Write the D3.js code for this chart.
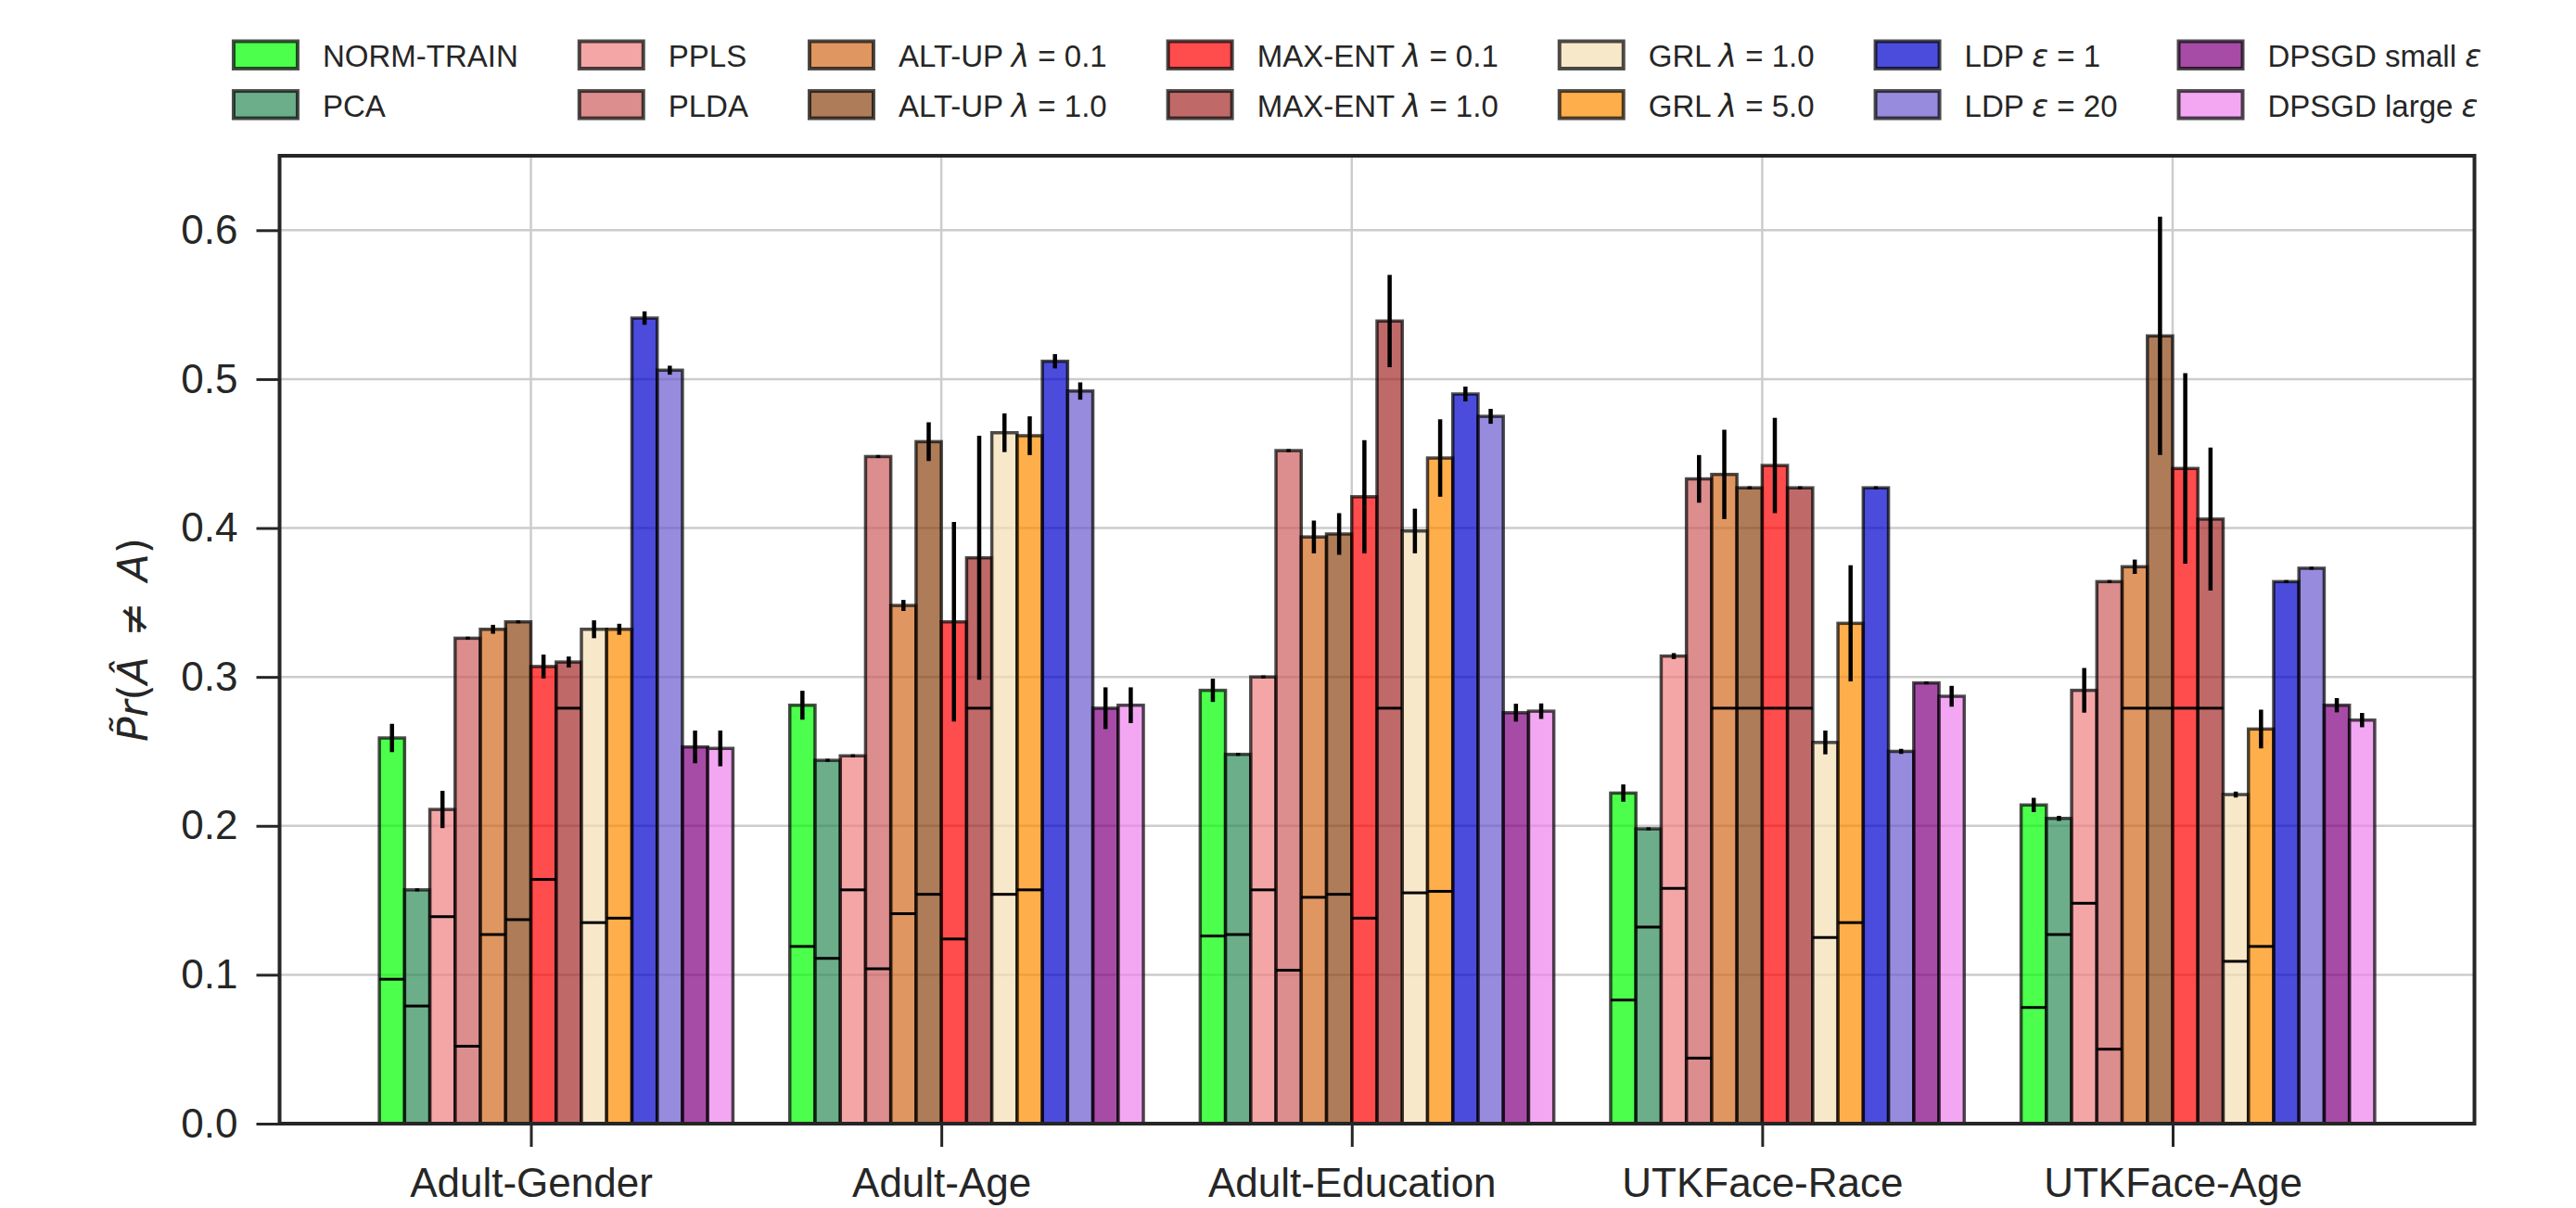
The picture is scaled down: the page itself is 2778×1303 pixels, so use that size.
<!DOCTYPE html>
<html>
<head>
<meta charset="utf-8">
<script src="https://cdn.jsdelivr.net/npm/d3@7"></script>
<style>
  body { margin: 0; background: #fff; }
  text { font-family: "Liberation Sans", Arial, sans-serif; fill: #262626; }
</style>
</head>
<body>
<div id="chart"></div>
<script>
// x categories
var datasets = ["Adult-Gender", "Adult-Age", "Adult-Education", "UTKFace-Race", "UTKFace-Age"];

// series (legend order) and their colours
var methods = ["NORM-TRAIN", "PCA", "PPLS", "PLDA",
    "ALT-UP λ = 0.1", "ALT-UP λ = 1.0", "MAX-ENT λ = 0.1", "MAX-ENT λ = 1.0",
    "GRL λ = 1.0", "GRL λ = 5.0", "LDP ε = 1", "LDP ε = 20",
    "DPSGD small ε", "DPSGD large ε"];
var colors = ["lime", "seagreen", "lightcoral", "indianred",
    "chocolate", "saddlebrown", "red", "brown",
    "wheat", "darkorange", "mediumblue", "slateblue",
    "purple", "violet"];

// bar heights, one value per method
var meanAdultGender = [0.259, 0.157, 0.211, 0.326, 0.332, 0.337, 0.307, 0.310, 0.332, 0.332, 0.541, 0.506, 0.253, 0.252];
var meanAdultAge    = [0.281, 0.244, 0.247, 0.448, 0.348, 0.458, 0.337, 0.380, 0.464, 0.462, 0.512, 0.492, 0.279, 0.281];
var meanAdultEdu    = [0.291, 0.248, 0.300, 0.452, 0.394, 0.396, 0.421, 0.539, 0.398, 0.447, 0.490, 0.475, 0.276, 0.277];
var meanUtkRace     = [0.222, 0.198, 0.314, 0.433, 0.436, 0.427, 0.442, 0.427, 0.256, 0.336, 0.427, 0.250, 0.296, 0.287];
var meanUtkAge      = [0.214, 0.205, 0.291, 0.364, 0.374, 0.529, 0.440, 0.406, 0.221, 0.265, 0.364, 0.373, 0.281, 0.271];

// error bar half lengths
var errAdultGender = [0.0095, 0.001, 0.0125, 0.001, 0.003, 0.001, 0.008, 0.0037, 0.006, 0.0037, 0.0045, 0.003, 0.011, 0.012];
var errAdultAge    = [0.0097, 0.001, 0.001, 0.001, 0.0037, 0.013, 0.067, 0.082, 0.013, 0.013, 0.0048, 0.0058, 0.014, 0.012];
var errAdultEdu    = [0.0078, 0.001, 0.001, 0.001, 0.011, 0.014, 0.038, 0.031, 0.015, 0.026, 0.005, 0.005, 0.006, 0.0052];
var errUtkRace     = [0.0058, 0.001, 0.002, 0.016, 0.030, 0.001, 0.032, 0.001, 0.008, 0.039, 0.001, 0.0017, 0.001, 0.007];
var errUtkAge      = [0.0048, 0.0017, 0.015, 0.001, 0.0048, 0.080, 0.064, 0.048, 0.002, 0.013, 0.001, 0.001, 0.0048, 0.0048];

// black reference line inside each bar (none for LDP / DPSGD)
var refAdultGender = [0.097, 0.079, 0.139, 0.052, 0.127, 0.137, 0.164, 0.279, 0.135, 0.138, null, null, null, null];
var refAdultAge    = [0.119, 0.111, 0.157, 0.104, 0.141, 0.154, 0.124, 0.279, 0.154, 0.157, null, null, null, null];
var refAdultEdu    = [0.126, 0.127, 0.157, 0.103, 0.152, 0.154, 0.138, 0.279, 0.155, 0.156, null, null, null, null];
var refUtkRace     = [0.083, 0.132, 0.158, 0.044, 0.279, 0.279, 0.279, 0.279, 0.125, 0.135, null, null, null, null];
var refUtkAge      = [0.078, 0.127, 0.148, 0.050, 0.279, 0.279, 0.279, 0.279, 0.109, 0.119, null, null, null, null];

var yTicks = [0, 0.1, 0.2, 0.3, 0.4, 0.5, 0.6];

var means = [meanAdultGender, meanAdultAge, meanAdultEdu, meanUtkRace, meanUtkAge];
var errs = [errAdultGender, errAdultAge, errAdultEdu, errUtkRace, errUtkAge];
var refs = [refAdultGender, refAdultAge, refAdultEdu, refUtkRace, refUtkAge];

var W = 2778, H = 1303;
var plot = {left: 301.5, right: 2668.5, top: 168, bottom: 1212};

var svg = d3.select("#chart").append("svg")
    .attr("width", W)
    .attr("height", H)
    .style("background-color", "#fff");

// Scales
var barW = 0.8 / 13;
var lo = -6 * barW, hi = datasets.length - 1 + 8 * barW;
var pad = 0.05 * (hi - lo);
var x = d3.scaleLinear().domain([lo - pad, hi + pad]).range([plot.left, plot.right]);
var y = d3.scaleLinear().domain([0, 0.65]).range([plot.bottom, plot.top]);
var bw = x(barW) - x(0);

// Grid
var grid = svg.append("g");
grid.selectAll("line.h").data(yTicks).enter().append("line")
    .attr("x1", plot.left).attr("x2", plot.right)
    .attr("y1", function(d) { return y(d); }).attr("y2", function(d) { return y(d); })
    .style("stroke", "#cccccc").style("stroke-width", 2.5);
grid.selectAll("line.v").data(d3.range(datasets.length)).enter().append("line")
    .attr("x1", function(d) { return x(d); }).attr("x2", function(d) { return x(d); })
    .attr("y1", plot.top).attr("y2", plot.bottom)
    .style("stroke", "#cccccc").style("stroke-width", 2.5);

// Bars, error bars and reference lines, one series at a time
methods.forEach(function(m, i) {
    var rows = datasets.map(function(ds, k) {
        return {k: k, v: means[k][i], e: errs[k][i], r: refs[k][i]};
    });
    var g = svg.append("g");
    g.selectAll("rect").data(rows).enter().append("rect")
        .attr("x", function(d) { return x(d.k + (i - 6) * barW); })
        .attr("y", function(d) { return y(d.v); })
        .attr("width", bw)
        .attr("height", function(d) { return y(0) - y(d.v); })
        .style("fill", colors[i]).style("fill-opacity", 0.7)
        .style("stroke", "#000").style("stroke-opacity", 0.7).style("stroke-width", 3.5);
    g.selectAll("line.err").data(rows).enter().append("line")
        .attr("x1", function(d) { return x(d.k + (i - 5.5) * barW); })
        .attr("x2", function(d) { return x(d.k + (i - 5.5) * barW); })
        .attr("y1", function(d) { return y(d.v - d.e); })
        .attr("y2", function(d) { return y(d.v + d.e); })
        .style("stroke", "#000").style("stroke-width", 4.5);
    g.selectAll("line.ref").data(rows.filter(function(d) { return d.r !== null; })).enter().append("line")
        .attr("x1", function(d) { return x(d.k + (i - 6) * barW); })
        .attr("x2", function(d) { return x(d.k + (i - 5) * barW); })
        .attr("y1", function(d) { return y(d.r); })
        .attr("y2", function(d) { return y(d.r); })
        .style("stroke", "#000").style("stroke-width", 3);
});

// Axes
var yaxis = d3.axisLeft(y).tickValues(yTicks).tickFormat(d3.format(".1f")).tickSize(25).tickPadding(20);
var xaxis = d3.axisBottom(x).tickValues(d3.range(datasets.length))
    .tickFormat(function(d) { return datasets[d]; }).tickSize(25).tickPadding(23);

var ya = svg.append("g").attr("transform", "translate(" + plot.left + ",0)").call(yaxis);
var xa = svg.append("g").attr("transform", "translate(0," + plot.bottom + ")").call(xaxis);
[ya, xa].forEach(function(a) {
    a.select(".domain").remove();
    a.selectAll("line").style("stroke", "#262626").style("stroke-width", 3);
    a.selectAll("text").style("font-size", "44px").style("fill", "#262626")
        .style("font-family", "'Liberation Sans', Arial, sans-serif");
});

// Frame
svg.append("rect")
    .attr("x", plot.left).attr("y", plot.top)
    .attr("width", plot.right - plot.left).attr("height", plot.bottom - plot.top)
    .style("fill", "none").style("stroke", "#262626").style("stroke-width", 4);

// Y label
var ylab = svg.append("text")
    .attr("transform", "translate(159," + ((plot.top + plot.bottom) / 2) + ") rotate(-90)")
    .attr("text-anchor", "middle")
    .style("font-family", "'DejaVu Sans', sans-serif")
    .style("font-size", "44px");
ylab.append("tspan").style("font-style", "italic").text("P\u0303r");
ylab.append("tspan").text("(");
ylab.append("tspan").style("font-style", "italic").text("\u00C2");
ylab.append("tspan").text("\u2002\u2260\u2002");
ylab.append("tspan").style("font-style", "italic").text("A");
ylab.append("tspan").text(")");

// Legend
function addLabel(t, s) {
    var parts = s.split(/([λε])/);
    t.append("tspan").text(parts[0]);
    if (parts.length > 1) {
        t.append("tspan").style("font-family", "'DejaVu Sans', sans-serif").style("font-style", "italic").text(parts[1]);
        t.append("tspan").text(parts[2]);
    }
}

var legend = svg.append("g");
var items = legend.selectAll("g").data(methods).enter().append("g");
items.append("rect")
    .attr("width", 69).attr("height", 29.5)
    .style("fill", function(d, i) { return colors[i]; }).style("fill-opacity", 0.7)
    .style("stroke", "#000").style("stroke-opacity", 0.7).style("stroke-width", 4);
items.append("text")
    .attr("x", 96).attr("y", 27.5)
    .style("font-size", "33px")
    .each(function(d) { addLabel(d3.select(this), d); });

var ncol = Math.ceil(methods.length / 2);
var widths = [];
items.select("text").each(function(d, i) { widths[i] = this.getComputedTextLength(); });
var colX = [0];
for (var c = 0; c < ncol; c++) {
    var mw = Math.max(widths[2 * c], widths[2 * c + 1] || 0);
    colX.push(colX[c] + 69 + 27 + mw + 66);
}
var total = colX[ncol] - 66;
var offset = 1464 - total / 2;
items.attr("transform", function(d, i) {
    var c = Math.floor(i / 2), r = i % 2;
    return "translate(" + (offset + colX[c]) + "," + (44.5 + r * 53.6) + ")";
});
</script>
</body>
</html>
